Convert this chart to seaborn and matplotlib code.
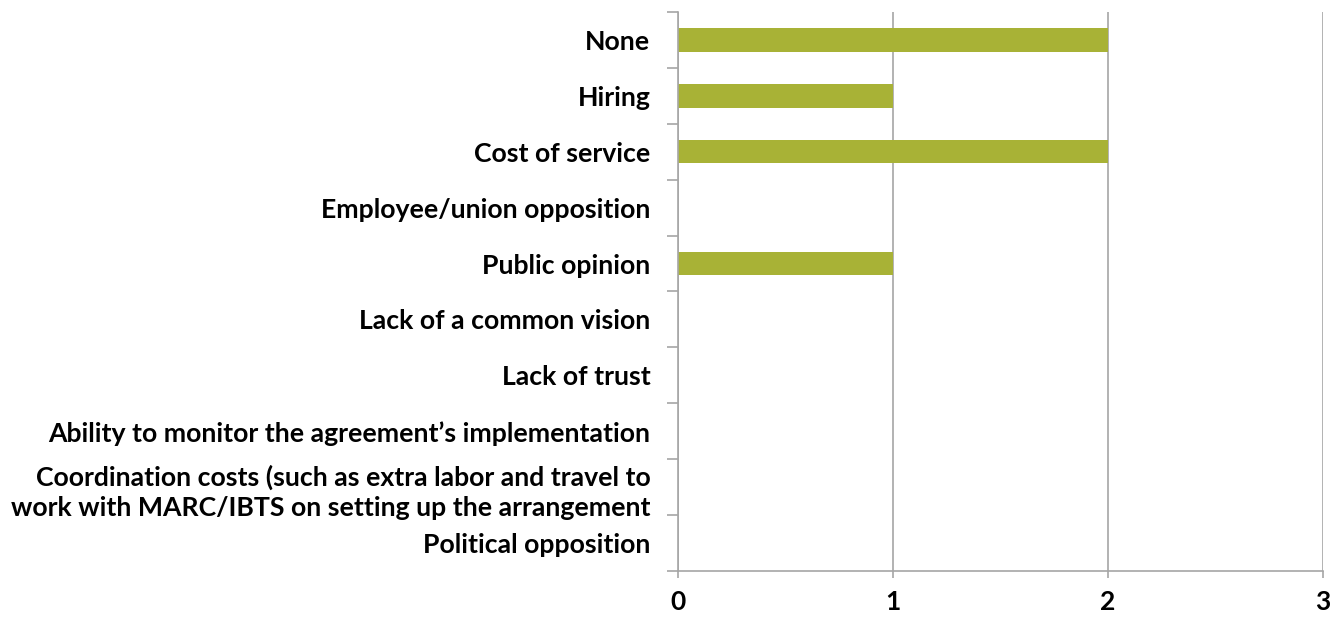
import matplotlib
matplotlib.use("Agg")
import matplotlib.pyplot as plt
import seaborn as sns
import pandas as pd
from matplotlib.ticker import FixedLocator

categories = [
    "None",
    "Hiring",
    "Cost of service",
    "Employee/union opposition",
    "Public opinion",
    "Lack of a common vision",
    "Lack of trust",
    "Ability to monitor the agreement\u2019s implementation",
    "Coordination costs (such as extra labor and travel to\nwork with MARC/IBTS on setting up the arrangement",
    "Political opposition",
]
counts = [2, 1, 2, 0, 1, 0, 0, 0, 0, 0]
x_ticks = [0, 1, 2, 3]

bar_color = "#A8B236"
grid_color = "#A6A6A6"

sns.set_theme(style="white")
plt.rcParams["font.family"] = ["Lato", "DejaVu Sans"]
plt.rcParams["font.weight"] = "bold"

df = pd.DataFrame({"barrier": categories, "count": counts})

fig = plt.figure(figsize=(13.43, 6.17), dpi=100)
ax = fig.add_axes([0.505, 0.0746, 0.48, 0.906])

sns.barplot(data=df, x="count", y="barrier", color=bar_color, width=0.42,
            orient="h", ax=ax, saturation=1, linewidth=0)

ax.set_xlim(0, 3)
ax.set_ylim(len(categories) - 0.5, -0.5)
ax.set_xticks(x_ticks)
ax.set_xticklabels([str(t) for t in x_ticks], fontsize=19, fontweight="bold", color="black")
ax.set_xlabel("")
ax.set_ylabel("")

# vertical gridlines
ax.grid(axis="x", color=grid_color, linewidth=1.2)
ax.grid(axis="y", visible=False)
ax.set_axisbelow(True)

# category labels with boundary ticks on the left spine
ax.set_yticks(range(len(categories)))
ax.set_yticklabels(categories, fontsize=19.2, fontweight="bold", color="black",
                   linespacing=1.3, ha="right")
ax.yaxis.set_minor_locator(FixedLocator([i - 0.5 for i in range(len(categories) + 1)]))
ax.tick_params(axis="y", which="major", length=0, pad=20)
ax.tick_params(axis="y", which="minor", length=8, width=1.2, color=grid_color, left=True)
ax.tick_params(axis="x", which="major", length=5, width=1.2, color=grid_color,
               bottom=True, pad=9)

for side in ["top", "right"]:
    ax.spines[side].set_visible(False)
for side in ["left", "bottom"]:
    ax.spines[side].set_visible(True)
    ax.spines[side].set_color(grid_color)
    ax.spines[side].set_linewidth(1.2)

fig.savefig("out.png", dpi=100, facecolor="white")
